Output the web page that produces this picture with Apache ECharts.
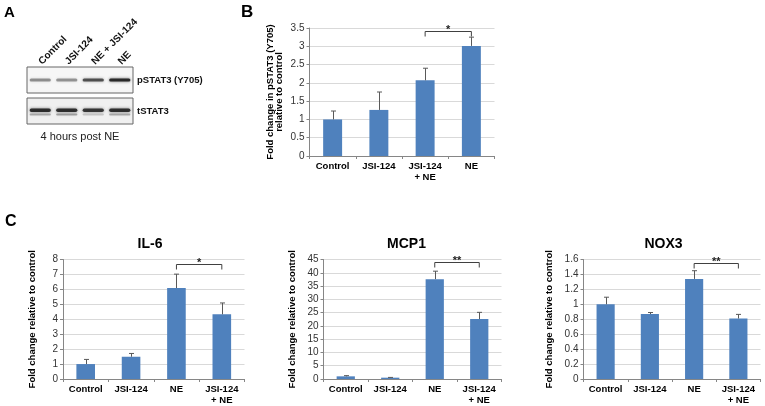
<!DOCTYPE html>
<html><head><meta charset="utf-8">
<script src="https://cdn.jsdelivr.net/npm/echarts@6/dist/echarts.min.js"></script>
<style>html,body{margin:0;padding:0;background:#fff}#c{width:765px;height:406px}</style>
</head><body><div id="c"></div>
<script>
// ---- Panel A: blot lanes and band intensities ----
const lanes = ['Control', 'JSI-124', 'NE + JSI-124', 'NE'];
const blotRows = ['pSTAT3 (Y705)', 'tSTAT3'];
const pstat3Band = [0.42, 0.40, 0.68, 0.88];
const tstat3Band = [0.85, 0.84, 0.80, 0.84];
const tstat3Lower = [0.30, 0.34, 0.18, 0.30];

// ---- Panel B ----
const catsB = ['Control', 'JSI-124', 'JSI-124\n+ NE', 'NE'];
const valsB = [1.0, 1.26, 2.07, 3.01];
const errB = [0.23, 0.49, 0.33, 0.24];
const sigB = [2, 3, 3.43];
const ticksB = { max: 3.5, interval: 0.5 };

// ---- Panel C ----
const catsC = ['Control', 'JSI-124', 'NE', 'JSI-124\n+ NE'];
const il6 = [1.0, 1.49, 6.09, 4.33];
const il6Err = [0.31, 0.22, 0.93, 0.76];
const sigIL6 = [2, 3, 7.67];
const ticksIL6 = { max: 8, interval: 1 };
const mcp1 = [1.0, 0.5, 37.6, 22.6];
const mcp1Err = [0.26, 0.1, 3.0, 2.5];
const sigMCP1 = [2, 3, 44.1];
const ticksMCP1 = { max: 45, interval: 5 };
const nox3 = [1.0, 0.869, 1.34, 0.81];
const nox3Err = [0.095, 0.021, 0.11, 0.055];
const sigNOX3 = [2, 3, 1.556];
const ticksNOX3 = { max: 1.6, interval: 0.2 };

const FONT = 'Liberation Sans, Arial, sans-serif';
const BAR = '#4F81BD';
const AXC = '#868686';

function valueAxis(gi, t, name, gap, fs) {
  return {
    type: 'value', gridIndex: gi, min: 0, max: t.max, interval: t.interval,
    name: name, nameLocation: 'middle', nameGap: gap,
    nameTextStyle: { fontFamily: FONT, fontWeight: 'bold', fontSize: fs, color: '#000', lineHeight: 9.5 },
    axisLine: { show: true, lineStyle: { color: AXC } },
    axisTick: { show: true, length: 3, lineStyle: { color: AXC } },
    axisLabel: { fontFamily: FONT, fontSize: 10, color: '#333', margin: 5 },
    splitLine: { show: true, lineStyle: { color: '#d9d9d9' } }
  };
}
function catAxis(gi, data) {
  return {
    type: 'category', gridIndex: gi, data: data,
    axisLine: { lineStyle: { color: AXC } },
    axisTick: { show: true, length: 3, lineStyle: { color: AXC } },
    axisLabel: { interval: 0, fontFamily: FONT, fontWeight: 'bold', fontSize: 9.5, color: '#000', margin: 5, lineHeight: 11 }
  };
}
function errRender(params, api) {
  const i = api.value(0), v = api.value(1), e = api.value(2);
  const p0 = api.coord([i, v]), p1 = api.coord([i, v + e]);
  const x = Math.round(p0[0]) + 0.5;
  return { type: 'group', children: [
    { type: 'line', shape: { x1: x, y1: p0[1], x2: x, y2: p1[1] }, style: { stroke: '#595959', lineWidth: 1 } },
    { type: 'line', shape: { x1: x - 2.5, y1: p1[1], x2: x + 2.5, y2: p1[1] }, style: { stroke: '#595959', lineWidth: 1 } }
  ]};
}
function sigRender(label) {
  return function (params, api) {
    const a = api.coord([api.value(0), api.value(2)]);
    const b = api.coord([api.value(1), api.value(2)]);
    const y = Math.round(a[1]) + 0.5;
    return { type: 'group', children: [
      { type: 'polyline', shape: { points: [[a[0], y + 5], [a[0], y], [b[0], y], [b[0], y + 5]] },
        style: { stroke: '#404040', fill: null, lineWidth: 1 } },
      { type: 'text', style: { text: label, x: (a[0] + b[0]) / 2, y: y + 4, align: 'center', verticalAlign: 'bottom',
        font: 'bold 11px ' + FONT, fill: '#222' } }
    ]};
  };
}
function bandRender(arrOffset, h) {
  return function (params, api) {
    const c = api.coord([api.value(0), 0]);
    const w = api.size([1, 0])[0] * 0.8;
    const a = api.value(2);
    return { type: 'rect', shape: { x: c[0] - w / 2, y: c[1] - h / 2 + arrOffset, width: w, height: h, r: h / 2 },
      style: { fill: 'rgba(25,25,25,' + a + ')', shadowBlur: 3, shadowColor: 'rgba(25,25,25,' + (a * 0.8) + ')' } };
  };
}
function barPanel(gi, vals, errs, sig, label) {
  return [
    { type: 'bar', xAxisIndex: gi, yAxisIndex: gi, data: vals, barWidth: '41%', itemStyle: { color: BAR }, silent: true },
    { type: 'custom', xAxisIndex: gi, yAxisIndex: gi, renderItem: errRender, data: vals.map((v, i) => [i, v, errs[i]]), z: 3, silent: true },
    { type: 'custom', xAxisIndex: gi, yAxisIndex: gi, renderItem: sigRender(label), data: [sig], z: 3, silent: true }
  ];
}

const chart = echarts.init(document.getElementById('c'), null, { renderer: 'canvas' });
const option = {
  animation: false,
  textStyle: { fontFamily: FONT },
  grid: [
    { left: 27, top: 67, width: 106, height: 26, show: true, borderColor: '#666', borderWidth: 1, backgroundColor: '#f6f6f6' },
    { left: 27, top: 98, width: 106, height: 26, show: true, borderColor: '#666', borderWidth: 1, backgroundColor: '#f0f0f0' },
    { left: 309.5, top: 28, width: 185, height: 128 },
    { left: 63, top: 259.5, width: 181.5, height: 120 },
    { left: 323.5, top: 259.5, width: 178, height: 120 },
    { left: 583.5, top: 259.5, width: 177, height: 120 }
  ],
  xAxis: [
    { type: 'category', gridIndex: 0, data: lanes, position: 'top', axisLine: { show: false }, axisTick: { show: false },
      axisLabel: { interval: 0, rotate: -45, fontFamily: FONT, fontWeight: 'bold', fontSize: 10, color: '#111', margin: 4 } },
    { type: 'category', gridIndex: 1, data: lanes, show: false },
    catAxis(2, catsB), catAxis(3, catsC), catAxis(4, catsC), catAxis(5, catsC)
  ],
  yAxis: [
    { type: 'category', gridIndex: 0, data: [blotRows[0]], position: 'right', axisLine: { show: false }, axisTick: { show: false },
      axisLabel: { fontFamily: FONT, fontWeight: 'bold', fontSize: 9.5, color: '#111', margin: 4 } },
    { type: 'category', gridIndex: 1, data: [blotRows[1]], position: 'right', axisLine: { show: false }, axisTick: { show: false },
      axisLabel: { fontFamily: FONT, fontWeight: 'bold', fontSize: 9.5, color: '#111', margin: 4 } },
    valueAxis(2, ticksB, 'Fold change in pSTAT3 (Y705)\nrelative to control', 25, 9.5),
    valueAxis(3, ticksIL6, 'Fold change relative to control', 26, 9.5),
    valueAxis(4, ticksMCP1, 'Fold change relative to control', 26, 9.5),
    valueAxis(5, ticksNOX3, 'Fold change relative to control', 29, 9.5)
  ],
  series: [
    { type: 'custom', xAxisIndex: 0, yAxisIndex: 0, renderItem: bandRender(0, 3), data: pstat3Band.map((v, i) => [i, 0, v]), silent: true },
    { type: 'custom', xAxisIndex: 1, yAxisIndex: 1, renderItem: bandRender(-0.8, 3.5), data: tstat3Band.map((v, i) => [i, 0, v]), silent: true },
    { type: 'custom', xAxisIndex: 1, yAxisIndex: 1, renderItem: bandRender(3.4, 2), data: tstat3Lower.map((v, i) => [i, 0, v]), silent: true }
  ].concat(
    barPanel(2, valsB, errB, sigB, '*'),
    barPanel(3, il6, il6Err, sigIL6, '*'),
    barPanel(4, mcp1, mcp1Err, sigMCP1, '**'),
    barPanel(5, nox3, nox3Err, sigNOX3, '**')
  ),
  graphic: [
    { type: 'text', style: { text: 'A', x: 4, y: 13, verticalAlign: 'middle', font: 'bold 15px ' + FONT, fill: '#000' } },
    { type: 'text', style: { text: 'B', x: 241, y: 12, verticalAlign: 'middle', font: 'bold 17px ' + FONT, fill: '#000' } },
    { type: 'text', style: { text: 'C', x: 5, y: 222, verticalAlign: 'middle', font: 'bold 16px ' + FONT, fill: '#000' } },
    { type: 'text', style: { text: '4 hours post NE', x: 80, y: 137, align: 'center', verticalAlign: 'middle', font: '11px ' + FONT, fill: '#222' } },
    { type: 'text', style: { text: 'IL-6', x: 150, y: 244, align: 'center', verticalAlign: 'middle', font: 'bold 14px ' + FONT, fill: '#000' } },
    { type: 'text', style: { text: 'MCP1', x: 406.5, y: 244, align: 'center', verticalAlign: 'middle', font: 'bold 14px ' + FONT, fill: '#000' } },
    { type: 'text', style: { text: 'NOX3', x: 663.5, y: 244, align: 'center', verticalAlign: 'middle', font: 'bold 14px ' + FONT, fill: '#000' } }
  ]
};
chart.setOption(option);
</script>
</body></html>
